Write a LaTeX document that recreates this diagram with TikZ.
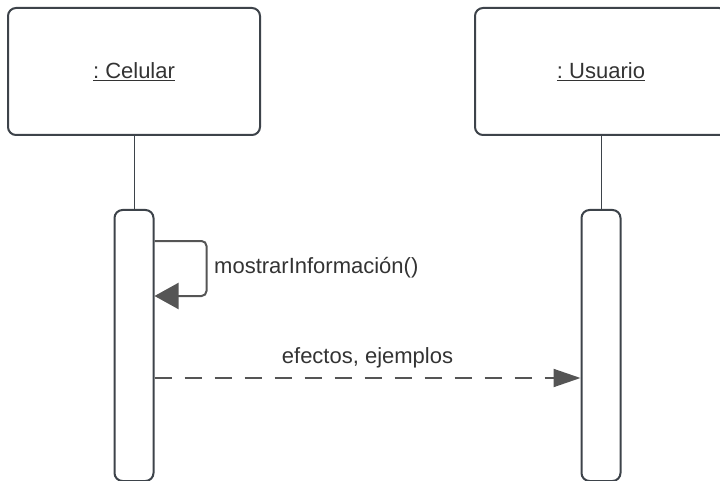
\documentclass[tikz,border=0pt]{standalone}
\usepackage{fontspec}
\setmainfont{Liberation Sans}
\usetikzlibrary{arrows.meta, positioning}
\definecolor{umlline}{HTML}{3D434A}
\definecolor{umlarrow}{HTML}{555555}
\definecolor{umltext}{HTML}{333333}
\frenchspacing
\tikzset{
  % Lifeline heads
  objecthead/.style={draw=umlline, line width=2pt, rounded corners=8pt, minimum width=252pt, minimum height=127pt, inner sep=0pt, text=umltext, font=\fontsize{22}{26}\selectfont},
  % Activation bars
  activation/.style={draw=umlline, line width=2pt, rounded corners=8pt, minimum width=39pt, minimum height=271pt, inner sep=0pt},
  lifeline/.style={draw=umlline, line width=1pt},
  % Messages
  callpointer/.style={-{Triangle[length=24pt, width=26pt]}, line width=2pt, draw=umlarrow, rounded corners=5pt},
  returnpointer/.style={-{Triangle[length=27pt, width=18pt]}, line width=2pt, draw=umlarrow, dash pattern=on 17pt off 13pt},
  msglabel/.style={text=umltext, inner sep=2pt, font=\fontsize{22}{26}\selectfont},
}

\begin{document}
\begin{tikzpicture}[x=1pt, y=-1pt]
  \useasboundingbox (0,0) rectangle (720,481);
  \clip (0,0) rectangle (720,481);

  \node[objecthead] (celular) at (134,71.5) {\underline{: Celular}};
  \node[objecthead, right=213pt of celular] (usuario) {\underline{: Usuario}};

  \node[activation, below=73pt of celular] (celularbar) {};
  \node[activation, below=73pt of usuario] (usuariobar) {};

  \draw[lifeline] (celular) -- (celularbar);
  \draw[lifeline] (usuario) -- (usuariobar);

  % self call
  \draw[callpointer] ([yshift=-32pt]celularbar.north east) -- ++(52,0) -- ++(0,55) -- ++(-52,0);
  \node[msglabel, anchor=west] (selflabel) at (212,268) {mostrarInformación()};

  % reply
  \coordinate (reply) at (0,378);
  \draw[returnpointer] (celularbar.east |- reply) -- (usuariobar.west |- reply)
    node[msglabel, midway, above=7pt] (replylabel) {efectos, ejemplos};

\end{tikzpicture}
\end{document}
